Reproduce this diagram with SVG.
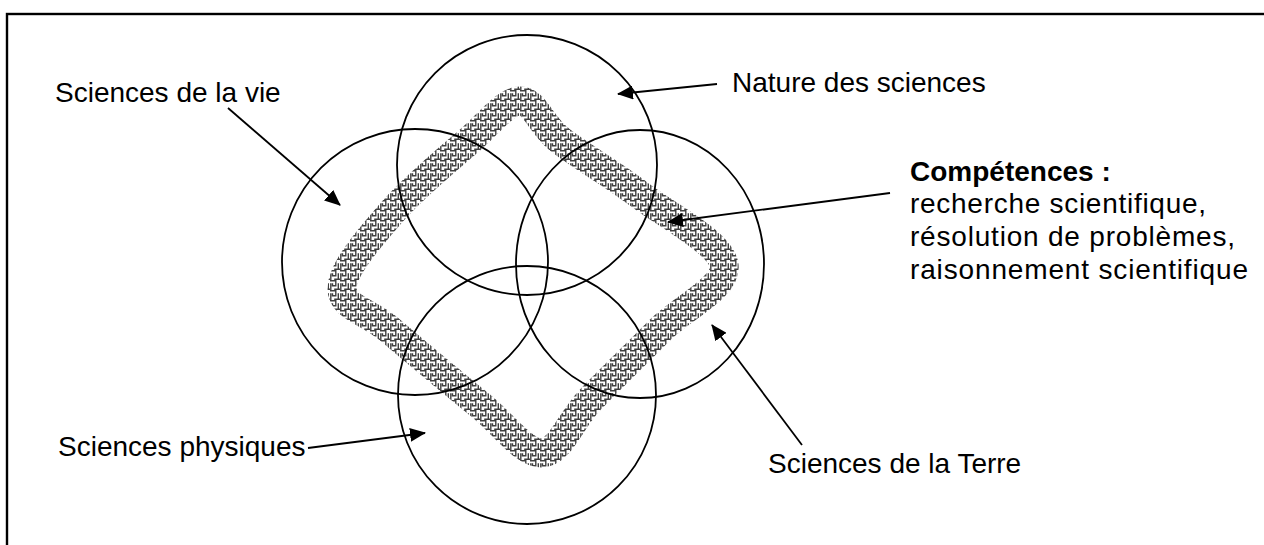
<svg xmlns="http://www.w3.org/2000/svg" width="1264" height="545" viewBox="0 0 1264 545">
<style>
.lbl{font-family:"Liberation Sans",Arial,sans-serif;font-size:28px;fill:#000}
.b{font-weight:bold}
.c{fill:none;stroke:#000;stroke-width:1.8}
.con{stroke:#000;stroke-width:1.8;fill:none;marker-end:url(#ah)}
</style>
<defs>
<marker id="ah" viewBox="0 0 16 14" refX="15" refY="7" markerWidth="16" markerHeight="14" markerUnits="userSpaceOnUse" orient="auto">
<path d="M0,0 L16,7 L0,14 Z" fill="#000"/>
</marker>
<pattern id="key" width="10" height="10" patternUnits="userSpaceOnUse">
<rect width="10" height="10" fill="#fff"/>
<path d="M0,0.8 H5.8 V5.8 H2.5 V3.3 M4.2,9.2 H10 M8.3,3.3 V10 M0.8,3.3 V10" stroke="#404040" stroke-width="1.4" fill="none"/>
</pattern>
</defs>
<rect x="0" y="0" width="1264" height="545" fill="#fff"/>
<rect id="frame" x="7" y="14" width="1400" height="700" fill="none" stroke="#000" stroke-width="2.4"/>
<g id="competences-band">
<path d="M342,288 C342.3,268.3 370.7,236.7 392,212 C413.3,187.3 448.7,158.5 470,140 C491.3,121.5 505,101 520,101 C535,101 540,124.3 560,140 C580,155.7 612.7,174.2 640,195 C667.3,215.8 720.7,242.5 724,265 C727.3,287.5 682.3,307.5 660,330 C637.7,352.5 609.7,379.5 590,400 C570.3,420.5 560.3,452.2 542,453 C523.7,453.8 505.3,425.5 480,405 C454.7,384.5 413,349.5 390,330 C367,310.5 341.7,307.7 342,288 Z" fill="none" stroke="url(#key)" stroke-width="29"/>
</g>
<g id="nature">
<ellipse class="c" cx="527" cy="165" rx="130" ry="130"/>
<text class="lbl" x="732" y="92">Nature des sciences</text>
</g>
<g id="vie">
<ellipse class="c" cx="415" cy="262" rx="133" ry="133"/>
<text class="lbl" x="55" y="102">Sciences de la vie</text>
</g>
<g id="terre">
<ellipse class="c" cx="640" cy="264" rx="124" ry="134"/>
<text class="lbl" x="768" y="473">Sciences de la Terre</text>
</g>
<g id="physiques">
<ellipse class="c" cx="527" cy="395" rx="129" ry="129"/>
<text class="lbl" x="58" y="456">Sciences physiques</text>
</g>
<g id="competences">
<text class="lbl b" x="910" y="181">Compétences :</text>
<text class="lbl" x="910" y="213" textLength="296" lengthAdjust="spacing">recherche scientifique,</text>
<text class="lbl" x="910" y="246" textLength="325" lengthAdjust="spacing">résolution de problèmes,</text>
<text class="lbl" x="910" y="279" textLength="338" lengthAdjust="spacing">raisonnement scientifique</text>
</g>
<g id="connectors">
<line class="con" x1="228" y1="108" x2="340" y2="205"/>
<line class="con" x1="717" y1="84" x2="618" y2="94"/>
<line class="con" x1="890" y1="193" x2="668" y2="222"/>
<line class="con" x1="802" y1="445" x2="712" y2="325"/>
<line class="con" x1="308" y1="448" x2="425" y2="433"/>
</g>
</svg>
